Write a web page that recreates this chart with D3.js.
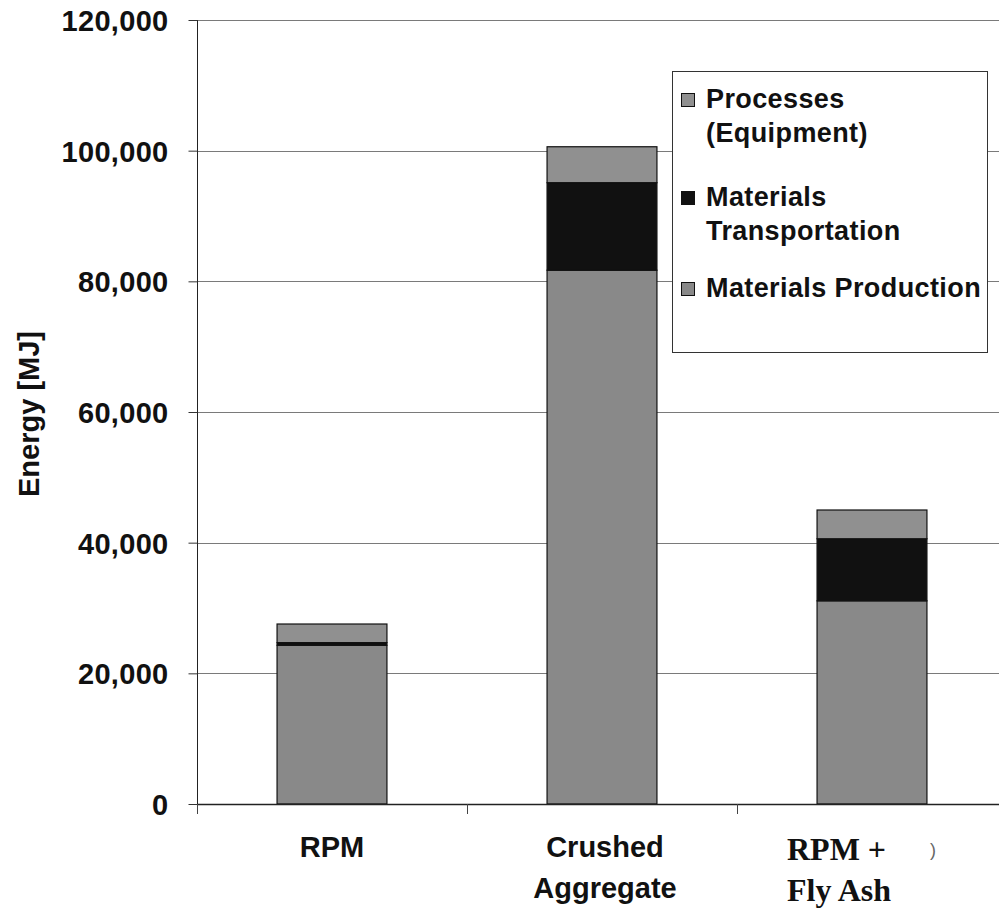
<!DOCTYPE html>
<html>
<head>
<meta charset="utf-8">
<script src="https://cdn.jsdelivr.net/npm/d3@7/dist/d3.min.js"></script>
<style>
html,body{margin:0;padding:0;background:#fff;}
svg{display:block;}
</style>
</head>
<body>
<svg id="chart" width="999" height="909"></svg>
<script>
// ---- data ----
const categories = ["RPM", "Crushed Aggregate", "RPM + Fly Ash"];
const categoryLines = [["RPM"], ["Crushed", "Aggregate"], ["RPM +", "Fly Ash"]];
const seriesNames = ["Materials Production", "Materials Transportation", "Processes (Equipment)"];
const materialsProduction = [24300, 81700, 31100];
const materialsTransportation = [400, 13400, 9500];
const processesEquipment = [2850, 5500, 4400];
const yTicks = [0, 20000, 40000, 60000, 80000, 100000, 120000];
const legendLines = [["Processes", "(Equipment)"], ["Materials", "Transportation"], ["Materials Production"]];

// ---- layout ----
const svg = d3.select("#chart");
const plotLeft = 197, plotTop = 20, plotBottom = 804, plotRight = 1007;
const colors = {"Materials Production": "#898989", "Materials Transportation": "#111111", "Processes (Equipment)": "#909090"};

const y = d3.scaleLinear().domain([0, 120000]).range([plotBottom, plotTop]);
const x = d3.scaleBand().domain(categories).range([plotLeft, plotRight]).paddingInner(0.593).paddingOuter(0.2965);

const table = categories.map((c, i) => ({
  cat: c,
  "Materials Production": materialsProduction[i],
  "Materials Transportation": materialsTransportation[i],
  "Processes (Equipment)": processesEquipment[i]
}));
const stacked = d3.stack().keys(seriesNames)(table);

// gridlines
svg.append("g").selectAll("line").data(yTicks).join("line")
  .attr("x1", plotLeft).attr("x2", 999)
  .attr("y1", d => Math.round(y(d)) + 0.5).attr("y2", d => Math.round(y(d)) + 0.5)
  .attr("stroke", "#7a7a7a").attr("stroke-width", 1);

// y axis
const yAxis = d3.axisLeft(y).tickValues(yTicks).tickSize(9).tickPadding(20)
  .tickFormat(d3.format(","));
const gy = svg.append("g").attr("transform", `translate(${plotLeft + 0.5},0)`).call(yAxis);
gy.select(".domain").attr("stroke", "#222").attr("d", `M0,${plotTop}V${plotBottom + 6}`);
gy.selectAll(".tick line").attr("stroke", "#333");
gy.selectAll(".tick text")
  .attr("font-family", "Liberation Sans, Arial, sans-serif")
  .attr("font-weight", "bold").attr("font-size", 29).attr("fill", "#111")
  .attr("letter-spacing", 0.3)
  .attr("dy", "0.36em");

// bars
svg.append("g").selectAll("g").data(stacked).join("g")
  .attr("fill", d => colors[d.key])
  .selectAll("rect").data(d => d).join("rect")
  .attr("x", d => x(d.data.cat))
  .attr("width", x.bandwidth())
  .attr("y", d => y(d[1]))
  .attr("height", d => y(d[0]) - y(d[1]))
  .attr("stroke", "#111").attr("stroke-width", 1.2);

// x axis line
svg.append("line").attr("x1", plotLeft).attr("x2", 999)
  .attr("y1", plotBottom + 0.5).attr("y2", plotBottom + 0.5)
  .attr("stroke", "#222").attr("stroke-width", 1.5);
// category boundary ticks
const step = x.step();
const boundaries = categories.map((c) => x(c) - (x.paddingInner() * step) / 2);
svg.append("g").selectAll("line").data(boundaries).join("line")
  .attr("x1", d => Math.round(d) + 0.5).attr("x2", d => Math.round(d) + 0.5)
  .attr("y1", plotBottom).attr("y2", plotBottom + 10)
  .attr("stroke", "#444");

// category labels
const catG = svg.append("g");
categories.forEach((c, i) => {
  const cx = x(c) + x.bandwidth() / 2;
  const serif = i === 2;
  const t = catG.append("text")
    .attr("font-family", serif ? "Liberation Serif, Times New Roman, serif" : "Liberation Sans, Arial, sans-serif")
    .attr("font-weight", "bold")
    .attr("font-size", serif ? 32 : 29)
    .attr("fill", "#111")
    .attr("text-anchor", serif ? "start" : "middle");
  categoryLines[i].forEach((ln, j) => {
    t.append("tspan").attr("x", serif ? cx - 85 : cx + (i === 1 ? 3 : 0)).attr("y", (serif ? 860 : 857) + j * 41).text(ln);
  });
});
// stray mark from the scan
svg.append("text").attr("x", 930).attr("y", 856).attr("font-family", "Liberation Sans, Arial, sans-serif")
  .attr("font-size", 18).attr("fill", "#666").text(")");

// y axis title
svg.append("text")
  .attr("transform", `translate(39,414) rotate(-90)`)
  .attr("text-anchor", "middle")
  .attr("font-family", "Liberation Sans, Arial, sans-serif")
  .attr("font-weight", "bold").attr("font-size", 29).attr("fill", "#111")
  .text("Energy [MJ]");

// legend
const lg = svg.append("g");
lg.append("rect").attr("x", 672.5).attr("y", 71.5).attr("width", 315).attr("height", 281)
  .attr("fill", "#fff").attr("stroke", "#333").attr("stroke-width", 1);
const legendKeys = ["Processes (Equipment)", "Materials Transportation", "Materials Production"];
const legendY = [108, 206, 297];
legendKeys.forEach((k, i) => {
  lg.append("rect").attr("x", 681.5).attr("y", legendY[i] - 14.5).attr("width", 13).attr("height", 13)
    .attr("fill", colors[k]).attr("stroke", "#111").attr("stroke-width", 1);
  const t = lg.append("text")
    .attr("font-family", "Liberation Sans, Arial, sans-serif")
    .attr("font-weight", "bold").attr("font-size", 27).attr("letter-spacing", 0.4).attr("fill", "#111");
  legendLines[i].forEach((ln, j) => {
    t.append("tspan").attr("x", 706).attr("y", legendY[i] + j * 34).text(ln);
  });
});
</script>
</body>
</html>
